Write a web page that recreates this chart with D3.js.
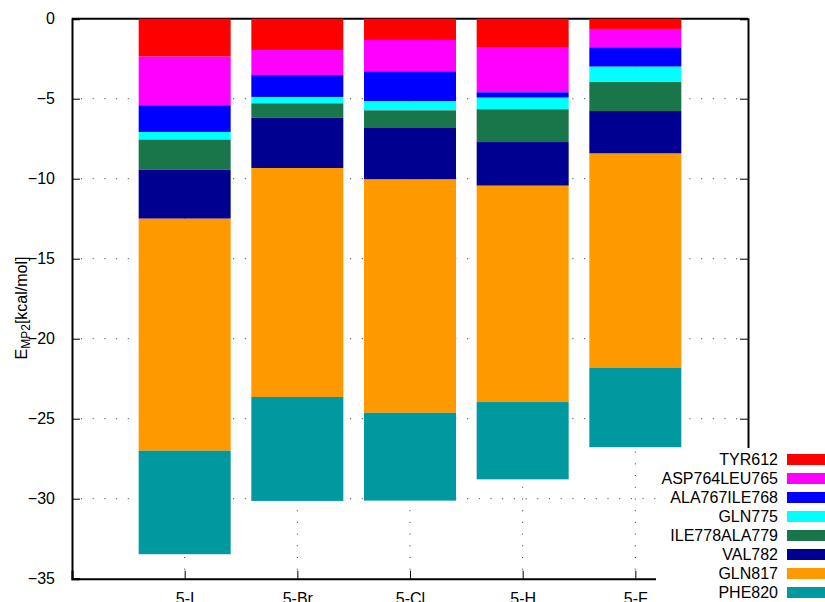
<!DOCTYPE html>
<html>
<head>
<meta charset="utf-8">
<script src="https://cdn.jsdelivr.net/npm/d3@7"></script>
<style>
  body { margin: 0; background: #fff; }
  text { font-family: "Liberation Sans", Arial, sans-serif; }
</style>
</head>
<body>
<div id="chart"></div>
<script>
// categories (compounds)
const compounds = ["5-I", "5-Br", "5-Cl", "5-H", "5-F"];

// per-residue contributions, kcal/mol, one array per residue (order = compounds)
const TYR612 = [-2.37, -1.96, -1.33, -1.77, -0.64];
const ASP764LEU765 = [-3.04, -1.56, -1.96, -2.83, -1.15];
const ALA767ILE768 = [-1.67, -1.37, -1.87, -0.34, -1.21];
const GLN775 = [-0.48, -0.40, -0.57, -0.72, -0.96];
const ILE778ALA779 = [-1.88, -0.90, -1.10, -2.05, -1.81];
const VAL782 = [-3.06, -3.14, -3.22, -2.73, -2.66];
const GLN817 = [-14.50, -14.31, -14.58, -13.52, -13.38];
const PHE820 = [-6.47, -6.50, -5.49, -4.83, -4.97];

const residues = ["TYR612", "ASP764LEU765", "ALA767ILE768", "GLN775",
                  "ILE778ALA779", "VAL782", "GLN817", "PHE820"];
const seriesValues = [TYR612, ASP764LEU765, ALA767ILE768, GLN775,
                      ILE778ALA779, VAL782, GLN817, PHE820];
const colors = ["#ff0000", "#ff00ff", "#0000ff", "#00ffff",
                "#18764a", "#000090", "#ff9900", "#00999f"];

const yTicks = [0, -5, -10, -15, -20, -25, -30, -35];

const margin = {top: 18.7, right: 77, bottom: 23.3, left: 72},
    width = 825 - margin.left - margin.right,
    height = 602 - margin.top - margin.bottom;

const svg = d3.select("#chart")
  .append("svg")
    .attr("width", 825)
    .attr("height", 602)
  .append("g")
    .attr("transform", `translate(${margin.left},${margin.top})`);

// rows for d3.stack
const rows = compounds.map((c, i) => {
  const r = {compound: c};
  residues.forEach((k, j) => { r[k] = seriesValues[j][i]; });
  return r;
});

const stacked = d3.stack()
    .keys(residues)
    .offset(d3.stackOffsetDiverging)(rows);

const x = d3.scaleLinear()
    .domain([0, compounds.length + 1])
    .range([0, width]);

const y = d3.scaleLinear()
    .domain([0, -35])
    .range([0, height]);

const barW = 92;
const dots = "1,10.7";
const fs = 16;

// dotted grid
svg.append("g").selectAll("line")
  .data(yTicks.slice(1, -1))
  .join("line")
    .attr("x1", 9).attr("x2", width - 9)
    .attr("y1", d => y(d)).attr("y2", d => y(d))
    .attr("stroke", "#333").attr("stroke-width", 1)
    .attr("stroke-dasharray", dots);

svg.append("g").selectAll("line")
  .data(compounds)
  .join("line")
    .attr("x1", (d, i) => x(i + 1)).attr("x2", (d, i) => x(i + 1))
    .attr("y1", height - 9).attr("y2", 0)
    .attr("stroke", "#333").attr("stroke-width", 1)
    .attr("stroke-dasharray", dots);

// frame + ticks
svg.append("g")
    .call(d3.axisLeft(y).tickValues(yTicks).tickSize(-8).tickPadding(17))
    .call(g => g.select(".domain").attr("stroke-width", 2))
    .call(g => g.selectAll("text").attr("font-size", fs).attr("fill", "#000")
      .attr("font-family", "Liberation Sans, Arial, sans-serif"));

svg.append("g")
    .attr("transform", `translate(${width},0)`)
    .call(d3.axisRight(y).tickValues(yTicks.slice(0, -1)).tickSize(-8).tickFormat(""))
    .call(g => g.select(".domain").attr("stroke-width", 2));

svg.append("line")
    .attr("x1", 0).attr("x2", width).attr("y1", 0).attr("y2", 0)
    .attr("stroke", "#000").attr("stroke-width", 2);

svg.append("g")
    .attr("transform", `translate(0,${height})`)
    .call(d3.axisBottom(x).tickValues(d3.range(1, compounds.length + 1))
      .tickSize(-8).tickPadding(14).tickFormat(i => compounds[i - 1]))
    .call(g => g.select(".domain").attr("stroke-width", 2))
    .call(g => g.selectAll("text").attr("font-size", fs).attr("fill", "#000")
      .attr("font-family", "Liberation Sans, Arial, sans-serif"));

// y label
const lab = svg.append("text")
    .attr("transform", `translate(${27 - margin.left},${308 - margin.top}) rotate(-90)`)
    .attr("text-anchor", "middle")
    .attr("font-size", fs);
lab.append("tspan").text("E");
lab.append("tspan").attr("font-size", 12).attr("dy", 3).text("MP2");
lab.append("tspan").attr("dy", -3).text("[kcal/mol]");

// legend (white box over plot corner)
const legend = d3.select("svg").append("g");
legend.append("rect")
    .attr("x", 656).attr("y", 448).attr("width", 170).attr("height", 160)
    .attr("fill", "#fff");

// bars drawn over the key box
svg.append("g").selectAll("g")
  .data(stacked)
  .join("g")
    .attr("fill", (d, j) => colors[j])
  .selectAll("rect")
  .data(d => d)
  .join("rect")
    .attr("x", (d, i) => x(i + 1) - barW / 2)
    .attr("y", d => y(d[1]))
    .attr("width", barW)
    .attr("height", d => y(d[0]) - y(d[1]));
d3.select("svg").node().appendChild(svg.node());
d3.select("svg").node().appendChild(legend.node());

const items = legend.selectAll("g.item")
  .data(residues)
  .join("g")
    .attr("class", "item")
    .attr("transform", (d, j) => `translate(0,${459.5 + j * 19})`);

items.append("text")
    .attr("x", 778).attr("y", 0).attr("dy", "0.35em")
    .attr("text-anchor", "end").attr("font-size", fs)
    .text(d => d);

items.append("rect")
    .attr("x", 787).attr("y", -5.5).attr("width", 40).attr("height", 11)
    .attr("fill", (d, j) => colors[j]);
</script>
</body>
</html>
